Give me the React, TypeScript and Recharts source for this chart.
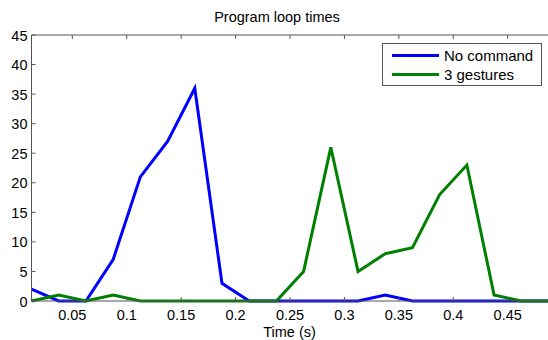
import React from "react";
import { LineChart, Line, XAxis, YAxis } from "recharts";

const times = [0.0125, 0.0375, 0.0625, 0.0875, 0.1125, 0.1375, 0.1625, 0.1875, 0.2125, 0.2375, 0.2625, 0.2875, 0.3125, 0.3375, 0.3625, 0.3875, 0.4125, 0.4375, 0.4625, 0.4875];
const noCommand = [2, 0, 0, 7, 21, 27, 36, 3, 0, 0, 0, 0, 0, 1, 0, 0, 0, 0, 0, 0];
const threeGestures = [0, 1, 0, 1, 0, 0, 0, 0, 0, 0, 5, 26, 5, 8, 9, 18, 23, 1, 0, 0];
const xTicks = [0.05, 0.1, 0.15, 0.2, 0.25, 0.3, 0.35, 0.4, 0.45];
const yTicks = [0, 5, 10, 15, 20, 25, 30, 35, 40, 45];
const seriesNames = ["No command", "3 gestures"];
const seriesColors = ["#0000ff", "#008000"];

const data = times.map((t, i) => ({ t, noCommand: noCommand[i], threeGestures: threeGestures[i] }));

const FONT = "'Liberation Sans', Arial, sans-serif";
const AXIS = "#555555";
const TICK_LEN = 4;

const BottomTick = (props: any) => {
  const { x, y, payload } = props;
  return (
    <g>
      <line x1={x} x2={x} y1={y} y2={y - TICK_LEN} stroke={AXIS} strokeWidth={1} />
      <text x={x} y={y + 19} textAnchor="middle" fontSize={14.5} fontFamily={FONT} fill="#000">
        {String(payload.value)}
      </text>
    </g>
  );
};
const TopTick = (props: any) => {
  const { x, y } = props;
  return <line x1={x} x2={x} y1={y} y2={y + TICK_LEN} stroke={AXIS} strokeWidth={1} />;
};
const LeftTick = (props: any) => {
  const { x, y, payload } = props;
  return (
    <g>
      <line x1={x} x2={x + TICK_LEN} y1={y} y2={y} stroke={AXIS} strokeWidth={1} />
      <text x={x - 4} y={y + 5.5} textAnchor="end" fontSize={14.5} fontFamily={FONT} fill="#000">
        {String(payload.value)}
      </text>
    </g>
  );
};
const RightTick = (props: any) => {
  const { x, y } = props;
  return <line x1={x} x2={x - TICK_LEN} y1={y} y2={y} stroke={AXIS} strokeWidth={1} />;
};

const LegendBox = () => (
  <div
    style={{
      position: "absolute",
      left: 382,
      top: 43,
      border: "1px solid #555",
      background: "#fff",
      width: 160,
      height: 43,
      boxSizing: "border-box",
      fontFamily: FONT,
      fontSize: 15,
      color: "#000",
      paddingTop: 2,
    }}
  >
    {seriesNames.map((name, i) => (
      <div key={name} style={{ display: "flex", alignItems: "center", height: 19 }}>
        <div style={{ width: 47, height: 3, background: seriesColors[i], marginLeft: 9, marginRight: 5 }} />
        <span>{name}</span>
      </div>
    ))}
  </div>
);

export default function App() {
  return (
    <div style={{ position: "fixed", left: 0, top: 0, width: 548, height: 340, background: "#fff", overflow: "hidden" }}>
      <div
        style={{
          position: "absolute",
          left: 0,
          top: 9,
          width: 554,
          textAlign: "center",
          fontFamily: FONT,
          fontSize: 14.5,
          color: "#000",
        }}
      >
        Program loop times
      </div>
      <div
        style={{
          position: "absolute",
          left: 31,
          top: 324,
          width: 517,
          textAlign: "center",
          fontFamily: FONT,
          fontSize: 14.5,
          color: "#000",
        }}
      >
        Time (s)
      </div>
      <div style={{ position: "absolute", left: 0, top: 0 }}>
        <LineChart width={550} height={340} data={data} margin={{ top: 34, right: 0.5, bottom: 38, left: 30.5 }}>
          <XAxis
            xAxisId="b"
            dataKey="t"
            type="number"
            domain={[0.0125, 0.4875]}
            ticks={xTicks}
            height={1}
            tickSize={0}
            tickMargin={0}
            tickLine={false}
            axisLine={{ stroke: AXIS }}
            tick={<BottomTick />}
            interval={0}
          />
          <XAxis
            xAxisId="top"
            orientation="top"
            dataKey="t"
            type="number"
            domain={[0.0125, 0.4875]}
            ticks={xTicks}
            height={1}
            tickSize={0}
            tickMargin={0}
            tickLine={false}
            axisLine={{ stroke: AXIS }}
            tick={<TopTick />}
            interval={0}
          />
          <YAxis
            yAxisId="l"
            domain={[0, 45]}
            ticks={yTicks}
            width={1}
            tickSize={0}
            tickMargin={0}
            tickLine={false}
            axisLine={{ stroke: AXIS }}
            tick={<LeftTick />}
            interval={0}
          />
          <YAxis
            yAxisId="r"
            orientation="right"
            domain={[0, 45]}
            ticks={yTicks}
            width={1}
            tickSize={0}
            tickMargin={0}
            tickLine={false}
            axisLine={{ stroke: AXIS }}
            tick={<RightTick />}
            interval={0}
          />
          <Line
            xAxisId="b"
            yAxisId="l"
            type="linear"
            dataKey="noCommand"
            name={seriesNames[0]}
            stroke={seriesColors[0]}
            strokeWidth={3}
            dot={false}
            isAnimationActive={false}
          />
          <Line
            xAxisId="b"
            yAxisId="l"
            type="linear"
            dataKey="threeGestures"
            name={seriesNames[1]}
            stroke={seriesColors[1]}
            strokeWidth={3}
            dot={false}
            isAnimationActive={false}
          />
        </LineChart>
      </div>
      <LegendBox />
    </div>
  );
}
